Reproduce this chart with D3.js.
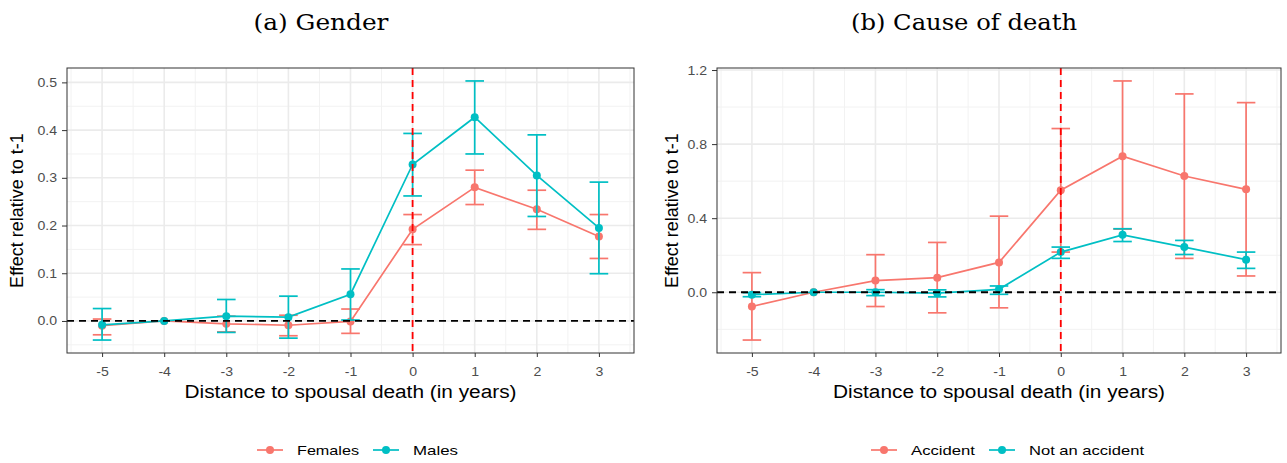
<!DOCTYPE html>
<html lang="en">
<head>
<meta charset="UTF-8">
<script src="https://cdnjs.cloudflare.com/ajax/libs/d3/7.8.5/d3.min.js"></script>
<style>
    body { margin: 0; background: #fff; }
    svg { display: block; }
    .tick-label { font-family: "Liberation Sans", Arial, sans-serif; font-size: 12.5px; fill: #4d4d4d; }
    .axis-title { font-family: "Liberation Sans", Arial, sans-serif; font-size: 18px; fill: #000; }
    .panel-title { font-family: "DejaVu Serif", "Liberation Serif", serif; font-size: 22px; fill: #000; }
    .legend-text { font-family: "Liberation Sans", Arial, sans-serif; font-size: 13.5px; fill: #000; }
</style>
</head>
<body>
<script>
// event time, relative to the spouse's death
var years = [-5, -4, -3, -2, -1, 0, 1, 2, 3];

// (a) gender
var femalesEst = [-0.010, 0, -0.006, -0.009, -0.001, 0.192, 0.280, 0.234, 0.177];
var femalesLo  = [-0.029, 0, -0.023, -0.031, -0.026, 0.160, 0.244, 0.192, 0.131];
var femalesHi  = [0.004, 0, 0.010, 0.012, 0.025, 0.223, 0.316, 0.274, 0.223];
var malesEst   = [-0.008, 0, 0.010, 0.008, 0.056, 0.328, 0.427, 0.305, 0.195];
var malesLo    = [-0.040, 0, -0.024, -0.036, 0.002, 0.262, 0.350, 0.219, 0.099];
var malesHi    = [0.026, 0, 0.045, 0.052, 0.109, 0.393, 0.503, 0.390, 0.291];

// (b) cause of death
var accidentEst = [-0.077, 0, 0.063, 0.079, 0.161, 0.551, 0.735, 0.628, 0.556];
var accidentLo  = [-0.258, 0, -0.077, -0.111, -0.084, 0.217, 0.341, 0.183, 0.088];
var accidentHi  = [0.106, 0, 0.203, 0.269, 0.411, 0.884, 1.141, 1.071, 1.024];
var notAccEst   = [-0.013, 0, 0.000, -0.005, 0.016, 0.217, 0.310, 0.244, 0.176];
var notAccLo    = [-0.024, 0, -0.018, -0.025, -0.011, 0.183, 0.274, 0.204, 0.129];
var notAccHi    = [-0.002, 0, 0.014, 0.013, 0.034, 0.244, 0.343, 0.280, 0.217];

var xTicks = years;
var gridLeftMajor = [0, 0.1, 0.2, 0.3, 0.4, 0.5];
var gridLeftMinor = [-0.05, 0.05, 0.15, 0.25, 0.35, 0.45];
var gridRightMajor = [0, 0.4, 0.8, 1.2];
var gridRightMinor = [-0.2, 0.2, 0.6, 1.0];

var red = "#F8766D", teal = "#00BFC4";
// the source figure is a bit wider than tall, text included
var stretch = 1.13;

var width = 1287, height = 463;
var svg = d3.select("body").append("svg")
    .attr("width", width)
    .attr("height", height);

function makeSeries(name, color, est, lo, hi) {
    return {
        name: name, color: color,
        values: years.map(function(y, i) {
            return { year: y, est: est[i], lo: lo[i], hi: hi[i] };
        })
    };
}

function drawPanel(cfg) {
    var capHalf = 0.15;
    var xLo = d3.min(years) - capHalf, xHi = d3.max(years) + capHalf;
    var xPad = (xHi - xLo) * 0.05;
    var x = d3.scaleLinear()
        .domain([xLo - xPad, xHi + xPad])
        .range([cfg.left, cfg.right]);

    var allLo = d3.min(cfg.series, function(s) { return d3.min(s.values, function(d) { return d.lo; }); });
    var allHi = d3.max(cfg.series, function(s) { return d3.max(s.values, function(d) { return d.hi; }); });
    var yPad = (allHi - allLo) * 0.05;
    var y = d3.scaleLinear()
        .domain([allLo - yPad, allHi + yPad])
        .range([cfg.bottom, cfg.top]);

    var g = svg.append("g");

    // grid
    var minorX = d3.range(d3.min(years) - 0.5, d3.max(years) + 1, 1);
    g.selectAll(".gx-minor").data(minorX).enter().append("line")
        .attr("x1", function(d) { return x(d); }).attr("x2", function(d) { return x(d); })
        .attr("y1", cfg.top).attr("y2", cfg.bottom)
        .attr("stroke", "#f2f2f2").attr("stroke-width", 1);
    g.selectAll(".gy-minor").data(cfg.minor).enter().append("line")
        .attr("x1", cfg.left).attr("x2", cfg.right)
        .attr("y1", function(d) { return y(d); }).attr("y2", function(d) { return y(d); })
        .attr("stroke", "#f2f2f2").attr("stroke-width", 1);
    g.selectAll(".gx-major").data(xTicks).enter().append("line")
        .attr("x1", function(d) { return x(d); }).attr("x2", function(d) { return x(d); })
        .attr("y1", cfg.top).attr("y2", cfg.bottom)
        .attr("stroke", "#ebebeb").attr("stroke-width", 1.6);
    g.selectAll(".gy-major").data(cfg.major).enter().append("line")
        .attr("x1", cfg.left).attr("x2", cfg.right)
        .attr("y1", function(d) { return y(d); }).attr("y2", function(d) { return y(d); })
        .attr("stroke", "#ebebeb").attr("stroke-width", 1.6);

    // series
    var line = d3.line()
        .x(function(d) { return x(d.year); })
        .y(function(d) { return y(d.est); });

    cfg.series.forEach(function(s) {
        var sg = g.append("g");
        sg.append("path")
            .datum(s.values)
            .attr("d", line)
            .attr("fill", "none")
            .attr("stroke", s.color)
            .attr("stroke-width", 1.7);
        var eb = sg.selectAll(".eb").data(s.values.filter(function(d) { return d.hi !== d.lo; }))
            .enter().append("g").attr("stroke", s.color).attr("stroke-width", 1.7);
        eb.append("line")
            .attr("x1", function(d) { return x(d.year); }).attr("x2", function(d) { return x(d.year); })
            .attr("y1", function(d) { return y(d.lo); }).attr("y2", function(d) { return y(d.hi); });
        eb.append("line")
            .attr("x1", function(d) { return x(d.year - capHalf); }).attr("x2", function(d) { return x(d.year + capHalf); })
            .attr("y1", function(d) { return y(d.lo); }).attr("y2", function(d) { return y(d.lo); });
        eb.append("line")
            .attr("x1", function(d) { return x(d.year - capHalf); }).attr("x2", function(d) { return x(d.year + capHalf); })
            .attr("y1", function(d) { return y(d.hi); }).attr("y2", function(d) { return y(d.hi); });
        sg.selectAll("circle").data(s.values).enter().append("circle")
            .attr("cx", function(d) { return x(d.year); })
            .attr("cy", function(d) { return y(d.est); })
            .attr("r", 4)
            .attr("fill", s.color);
    });

    // reference lines
    g.append("line")
        .attr("x1", cfg.left).attr("x2", cfg.right)
        .attr("y1", y(0)).attr("y2", y(0))
        .attr("stroke", "#000").attr("stroke-width", 1.8)
        .attr("stroke-dasharray", "7,5");
    g.append("line")
        .attr("x1", x(0)).attr("x2", x(0))
        .attr("y1", cfg.top).attr("y2", cfg.bottom)
        .attr("stroke", "#ff0000").attr("stroke-width", 1.8)
        .attr("stroke-dasharray", "7,5");

    // panel border
    g.append("rect")
        .attr("x", cfg.left).attr("y", cfg.top)
        .attr("width", cfg.right - cfg.left).attr("height", cfg.bottom - cfg.top)
        .attr("fill", "none").attr("stroke", "#333333").attr("stroke-width", 1);

    // axes
    var xAxis = g.append("g")
        .attr("transform", "translate(0," + cfg.bottom + ")")
        .call(d3.axisBottom(x).tickValues(xTicks).tickSize(4).tickPadding(10)
            .tickFormat(function(d) { return String(d); }));
    var yAxis = g.append("g")
        .attr("transform", "translate(" + cfg.left + ",0)")
        .call(d3.axisLeft(y).tickValues(cfg.major).tickSize(5).tickPadding(5)
            .tickFormat(d3.format(".1f")));
    [xAxis, yAxis].forEach(function(a) {
        a.select(".domain").remove();
        a.attr("font-family", null).attr("font-size", null);
        a.selectAll(".tick line").attr("stroke", "#333333");
        a.selectAll(".tick text").attr("class", "tick-label").attr("fill", null);
    });
    xAxis.selectAll(".tick text").attr("transform", "scale(" + stretch + ",1)");
    yAxis.selectAll(".tick text")
        .attr("x", -10 / stretch)
        .attr("transform", "scale(" + stretch + ",1)");

    // titles
    svg.append("text").attr("class", "panel-title")
        .attr("x", cfg.titleX).attr("y", 30)
        .attr("text-anchor", "middle")
        .attr("textLength", cfg.titleLen).attr("lengthAdjust", "spacingAndGlyphs")
        .text(cfg.title);
    svg.append("text").attr("class", "axis-title")
        .attr("x", (cfg.left + cfg.right) / 2).attr("y", 398)
        .attr("text-anchor", "middle")
        .attr("textLength", 332).attr("lengthAdjust", "spacingAndGlyphs")
        .text("Distance to spousal death (in years)");
    svg.append("text").attr("class", "axis-title")
        .attr("transform", "translate(" + cfg.yTitleX + "," + ((cfg.top + cfg.bottom) / 2) + ") rotate(-90)")
        .attr("text-anchor", "middle")
        .text("Effect relative to t-1");

    // legend
    var lg = svg.append("g");
    var cx = cfg.legendX;
    cfg.series.forEach(function(s, i) {
        var item = lg.append("g").attr("transform", "translate(" + cx + ",450)");
        item.append("line").attr("x1", 0).attr("x2", 26).attr("y1", 0).attr("y2", 0)
            .attr("stroke", s.color).attr("stroke-width", 1.7);
        item.append("circle").attr("cx", 13).attr("cy", 0).attr("r", 4).attr("fill", s.color);
        item.append("text").attr("class", "legend-text")
            .attr("x", 40).attr("y", 5)
            .attr("textLength", cfg.legendLens[i]).attr("lengthAdjust", "spacingAndGlyphs")
            .text(s.name);
        cx += 40 + cfg.legendLens[i] + 14;
    });
}

drawPanel({
    left: 67, right: 634, top: 68, bottom: 353,
    title: "(a) Gender", titleX: 321, titleLen: 135,
    yTitleX: 23,
    legendX: 257, legendLens: [62, 45],
    major: gridLeftMajor, minor: gridLeftMinor,
    series: [makeSeries("Females", red, femalesEst, femalesLo, femalesHi),
             makeSeries("Males", teal, malesEst, malesLo, malesHi)]
});

drawPanel({
    left: 717, right: 1281, top: 68, bottom: 353,
    title: "(b) Cause of death", titleX: 964, titleLen: 226,
    yTitleX: 678,
    legendX: 871, legendLens: [64, 115],
    major: gridRightMajor, minor: gridRightMinor,
    series: [makeSeries("Accident", red, accidentEst, accidentLo, accidentHi),
             makeSeries("Not an accident", teal, notAccEst, notAccLo, notAccHi)]
});
</script>
</body>
</html>
